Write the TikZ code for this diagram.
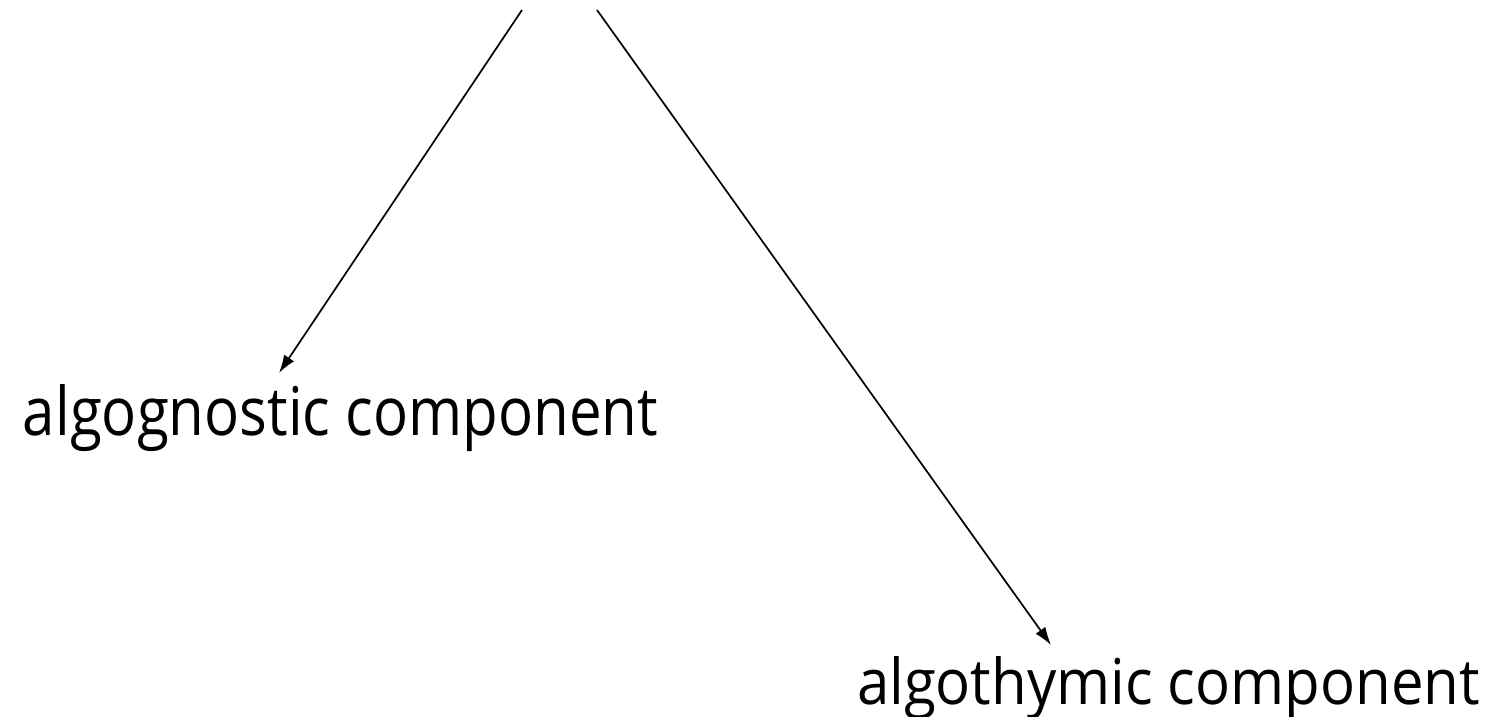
\documentclass[tikz,border=0pt]{standalone}
\usepackage{fontspec}
\setmainfont{Open Sans}
\usetikzlibrary{arrows.meta}
\tikzset{
  lbl/.style={inner sep=0pt, outer sep=0pt, anchor=base west},
  conn/.style={line width=1.7pt, -{Latex[length=18pt,width=12pt]}}
}
\begin{document}
\begin{tikzpicture}[x=1pt,y=-1pt]
\useasboundingbox (0,0) rectangle (1491,717);
\node[lbl] (gno) at (23,435) {\resizebox{635pt}{51pt}{\fontsize{60}{72}\selectfont algognostic component}};
\node[lbl] (thy) at (857,704) {\resizebox{623pt}{48pt}{\fontsize{60}{72}\selectfont algothymic component}};
\coordinate (topL) at (522,10);
\coordinate (topR) at (597,10);
\coordinate (tipL) at (279,373);
\coordinate (tipR) at (1051,645);
\draw[conn] (topL) -- (tipL);
\draw[conn] (topR) -- (tipR);
\end{tikzpicture}
\end{document}
